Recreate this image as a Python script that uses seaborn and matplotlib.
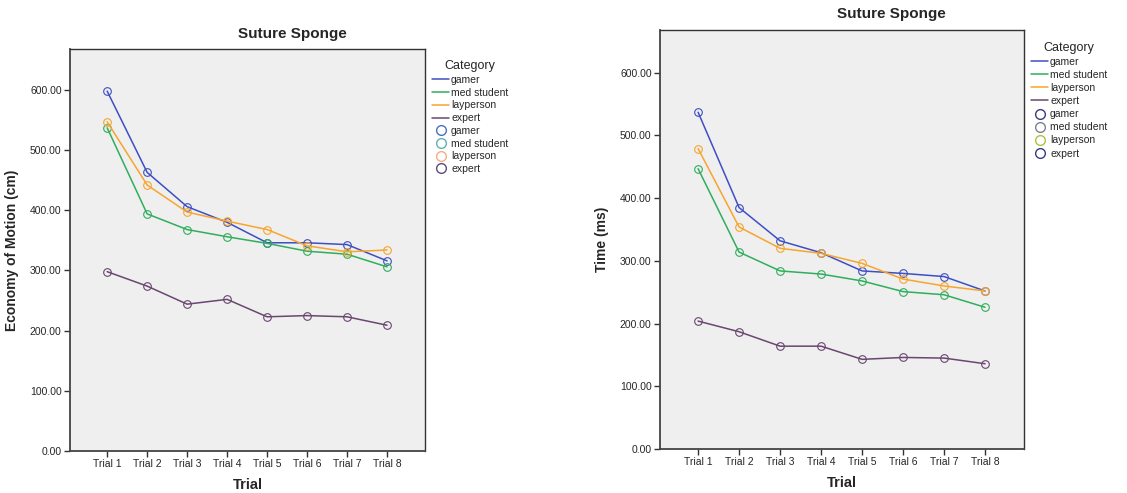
import numpy as np
import pandas as pd
import matplotlib.pyplot as plt
import seaborn as sns
from matplotlib.lines import Line2D
from matplotlib.ticker import FormatStrFormatter

trials = ["Trial 1", "Trial 2", "Trial 3", "Trial 4", "Trial 5", "Trial 6", "Trial 7", "Trial 8"]
categories = ["gamer", "med student", "layperson", "expert"]

# economy of motion (cm)
eom_gamer = [598, 463, 406, 380, 346, 346, 343, 316]
eom_med = [537, 394, 368, 356, 345, 332, 327, 306]
eom_lay = [547, 442, 397, 382, 368, 341, 331, 334]
eom_expert = [298, 274, 244, 252, 223, 225, 223, 209]

# time (ms)
time_gamer = [537, 385, 332, 313, 284, 280, 275, 252]
time_med = [447, 314, 284, 279, 268, 251, 246, 226]
time_lay = [479, 354, 320, 312, 296, 271, 260, 252]
time_expert = [204, 187, 164, 164, 143, 146, 145, 136]

line_colors = {"gamer": "#3d4fc4", "med student": "#2fae5c",
               "layperson": "#f7a52c", "expert": "#6a4670"}

sns.set_style("white")
plt.rcParams['font.family'] = ['Liberation Sans', 'DejaVu Sans']


def make_df(vals):
    rows = []
    for cat, v in zip(categories, vals):
        for t, y in zip(trials, v):
            rows.append({"Trial": t, "Category": cat, "value": y})
    return pd.DataFrame(rows)


df_eom = make_df([eom_gamer, eom_med, eom_lay, eom_expert])
df_time = make_df([time_gamer, time_med, time_lay, time_expert])

fig = plt.figure(figsize=(11.27, 4.93), dpi=100)
ax1 = fig.add_axes([0.0621, 0.0852, 0.3150, 0.8154])
ax2 = fig.add_axes([0.5856, 0.0892, 0.3230, 0.8498])


def draw(ax, df, ylabel, marker_cols, leg_y, spacing):
    sns.lineplot(data=df, x="Trial", y="value", hue="Category", palette=line_colors,
                 marker="o", markerfacecolor="none", markersize=5.5, markeredgewidth=0.8,
                 linewidth=1.1, legend=False, sort=False, ax=ax)
    # open circles in the line colour
    for ln in ax.lines:
        ln.set_markeredgecolor(ln.get_color())
        ln.set_markerfacecolor("none")
    ax.set_facecolor("#efefef")
    ax.set_ylim(0, 668)
    ax.set_xlim(-0.93, 7.95)
    ax.set_yticks(np.arange(0, 700, 100))
    ax.yaxis.set_major_formatter(FormatStrFormatter("%.2f"))
    ax.tick_params(axis="both", which="major", labelsize=7.5, length=4, width=1,
                   direction="out", left=True, bottom=True, color="#333333", pad=2)
    for side in ["left", "bottom"]:
        ax.spines[side].set_color("#444444")
        ax.spines[side].set_linewidth(1.3)
    for side in ["top", "right"]:
        ax.spines[side].set_color("#333333")
        ax.spines[side].set_linewidth(1.0)
    ax.set_xlabel("Trial", fontsize=10.5, fontweight="bold", labelpad=6)
    ax.set_ylabel(ylabel, fontsize=10, fontweight="bold", labelpad=8)

    handles = [Line2D([0], [0], color=line_colors[c], lw=1.1) for c in categories]
    handles += [Line2D([0], [0], color="none", marker="o", markerfacecolor="none",
                       markeredgecolor=mc, markersize=7) for mc in marker_cols]
    labels = categories + categories
    ax.legend(handles, labels, title="Category", loc="upper left",
              bbox_to_anchor=(1.0, leg_y), frameon=False, fontsize=7.5,
              title_fontsize=9, handlelength=1.6, handletextpad=0.2,
              labelspacing=spacing, borderaxespad=0.3)


draw(ax1, df_eom, "Economy of Motion (cm)", ["#4a6fc0", "#5fb0b0", "#f0b080", "#5a4a80"], 0.99, 0.26)
draw(ax2, df_time, "Time (ms)", ["#3a3a80", "#808090", "#b0c040", "#3a3a80"], 0.99, 0.3)

fig.text(0.259, 0.931, "Suture Sponge", ha="center", va="center", fontsize=11, fontweight="bold")
fig.text(0.791, 0.971, "Suture Sponge", ha="center", va="center", fontsize=11, fontweight="bold")

fig.savefig("out.png", dpi=100, facecolor="white")
